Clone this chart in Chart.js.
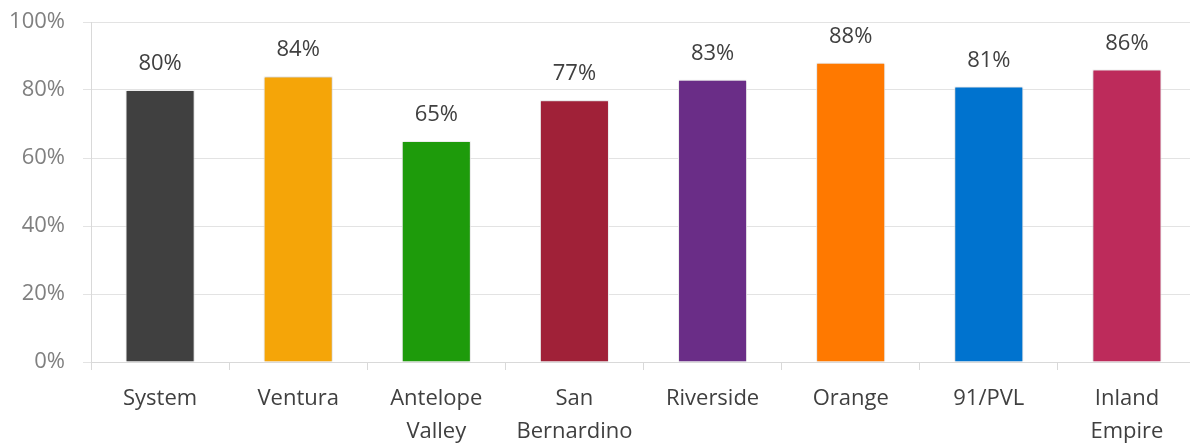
<!DOCTYPE html>
<html lang="en">
<head>
    <meta charset="UTF-8">
    <title>Regions</title>
    <script src="https://cdn.jsdelivr.net/npm/chart.js"></script>
    <style>
        html, body { margin: 0; padding: 0; background: #fff; overflow: hidden; }
        #wrap { width: 1197px; height: 445px; }
    </style>
</head>
<body>
    <div id="wrap"><canvas id="myChart"></canvas></div>
    <script>
        // categories and values (percent)
        const regions = [["System"], ["Ventura"], ["Antelope", "Valley"], ["San", "Bernardino"],
                         ["Riverside"], ["Orange"], ["91/PVL"], ["Inland", "Empire"]];
        const values = [80, 84, 65, 77, 83, 88, 81, 86];
        const barColors = ["#404040", "#F5A508", "#1E9B0B", "#A02138", "#6A2D87",
                           "#FF7900", "#0073CF", "#BD2B5B"];
        const yTicks = [0, 20, 40, 60, 80, 100];

        const fontFamily = "'Open Sans', sans-serif";

        // value labels above each bar
        const valueLabels = {
            id: 'valueLabels',
            afterDatasetsDraw(chart) {
                const ctx = chart.ctx;
                const meta = chart.getDatasetMeta(0);
                ctx.save();
                ctx.font = "22px " + fontFamily;
                ctx.fillStyle = "#404040";
                ctx.textAlign = "center";
                ctx.textBaseline = "alphabetic";
                meta.data.forEach((bar, i) => {
                    ctx.fillText(values[i] + "%", bar.x, bar.y - 20);
                });
                ctx.restore();
            }
        };

        // soft shadow round the bars
        const barShadow = {
            id: 'barShadow',
            beforeDatasetsDraw(chart) {
                const ctx = chart.ctx;
                ctx.save();
                ctx.shadowColor = "rgba(0,0,0,0.22)";
                ctx.shadowBlur = 2;
            },
            afterDatasetsDraw(chart) {
                chart.ctx.restore();
            }
        };

        var ctx = document.getElementById('myChart').getContext('2d');
        let myChart = new Chart(ctx, {
            type: 'bar',
            data: {
                labels: regions,
                datasets: [{
                    data: values,
                    backgroundColor: barColors,
                    borderColor: "#ffffff",
                    borderWidth: 1,
                    categoryPercentage: 1,
                    barPercentage: 0.5
                }]
            },
            options: {
                responsive: true,
                maintainAspectRatio: false,
                animation: false,
                layout: { padding: { top: 22, right: 1, left: 0, bottom: 0 } },
                plugins: {
                    legend: { display: false },
                    tooltip: { enabled: false }
                },
                scales: {
                    y: {
                        min: 0,
                        max: 100,
                        afterFit: (s) => { s.width = 91; s.paddingTop = 0; s.paddingBottom = 0; },
                        afterBuildTicks: (s) => { s.ticks = yTicks.map(v => ({ value: v })); },
                        ticks: {
                            padding: 18,
                            color: "#808080",
                            font: { family: fontFamily, size: 22 },
                            callback: (v) => v + "%"
                        },
                        grid: { color: "#e3e3e3", tickLength: 8, lineWidth: 1 },
                        border: { color: "#d9d9d9" }
                    },
                    x: {
                        afterFit: (s) => { s.height = 83; s.paddingTop = 0; },
                        ticks: {
                            padding: 12,
                            color: "#404040",
                            maxRotation: 0,
                            autoSkip: false,
                            font: { family: fontFamily, size: 22, lineHeight: 1.5 }
                        },
                        grid: { offset: true, drawOnChartArea: false, tickLength: 8, color: "#d9d9d9" },
                        border: { color: "#d9d9d9" }
                    }
                }
            },
            plugins: [barShadow, valueLabels]
        });
    </script>
</body>
</html>
